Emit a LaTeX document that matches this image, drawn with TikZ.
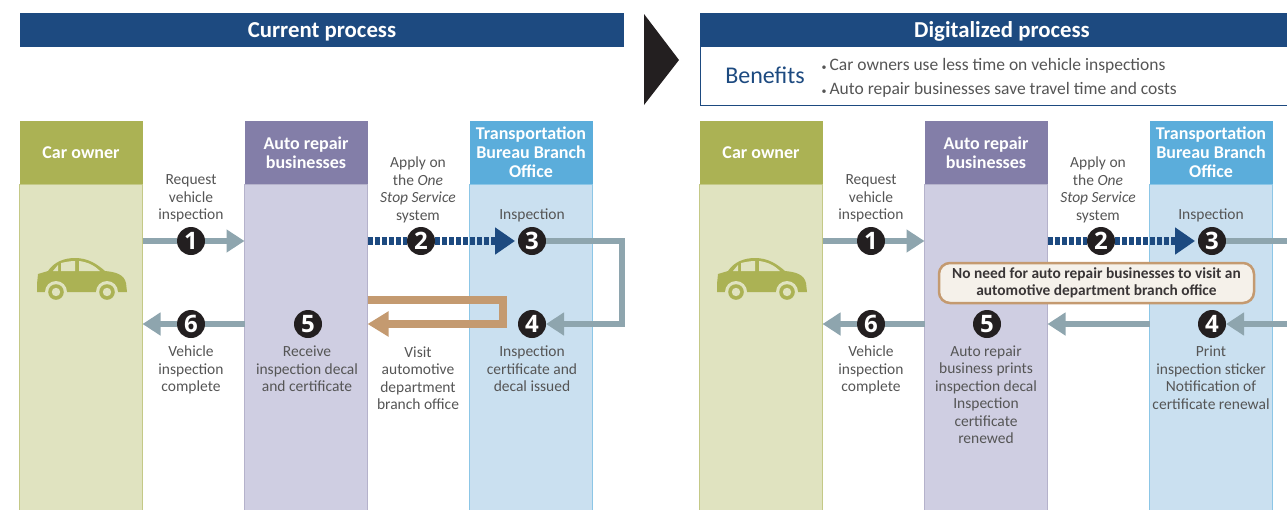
\documentclass[tikz,border=0pt]{standalone}
\usepackage{fontspec}
\setmainfont{Carlito}
\newfontfamily\numfont{Open Sans}
\usetikzlibrary{arrows.meta, positioning}

\definecolor{navy}{HTML}{1D4A80}
\definecolor{steel}{HTML}{8EA5AE}
\definecolor{tan}{HTML}{C49A70}
\definecolor{ink}{HTML}{231F20}
\definecolor{label}{HTML}{555555}
\definecolor{cream}{HTML}{F5F1EA}
\definecolor{olivehead}{HTML}{ABB254}
\definecolor{olivebody}{HTML}{E0E3C0}
\definecolor{purplehead}{HTML}{837EA8}
\definecolor{purplebody}{HTML}{CFCEE2}
\definecolor{skyhead}{HTML}{5BADDB}
\definecolor{skybody}{HTML}{CAE0F0}

\tikzset{
    banner/.style={anchor=north west, fill=navy, text=white, inner sep=0pt, outer sep=0pt, minimum width=604pt, minimum height=34pt, text height=20pt, text depth=5pt, font=\fontsize{22.8}{26}\selectfont\bfseries},
    head/.style={anchor=north west, inner sep=0pt, outer sep=0pt, minimum width=123pt, minimum height=63pt, text=white, align=center, font=\fontsize{18}{18.8}\selectfont\bfseries},
    body/.style={anchor=north west, inner sep=0pt, outer sep=0pt, minimum width=123pt, minimum height=335pt, line width=1pt},
    num/.style={circle, fill=ink, text=white, inner sep=0pt, outer sep=0pt, minimum size=28pt, font=\fontsize{24}{24}\selectfont\numfont\bfseries},
    note/.style={text=label, align=center, inner sep=0pt, font=\fontsize{15.5}{17.5}\selectfont},
    gain/.style={text=label, anchor=west, inner sep=0pt, font=\fontsize{17.5}{20}\selectfont},
    link/.style={draw=steel, line width=5.5pt},
    linkto/.style={link, -{Triangle[length=18pt,width=22pt]}},
    online/.style={draw=navy, line width=7.5pt, dash pattern=on 5pt off 2pt},
    onlineto/.style={online, shorten >=3pt, -{Triangle[length=20pt,width=26pt]}},
    visit/.style={draw=tan, line width=7.5pt, -{Triangle[length=21pt,width=24pt]}},
    car/.pic={
        \fill[olivehead] (37,292) -- (37,284) -- (38,274) -- (48,271) .. controls (54,262) and (64,258) .. (75,258) .. controls (88,258) and (97,264) .. (105,271) .. controls (115,272) and (124,274) .. (126,283) -- (127,292) -- cycle;
        \fill[olivebody] (53,271) -- (58,265) -- (58,271) -- cycle;
        \fill[olivebody] (61,271) -- (61,263) .. controls (66,262) and (70,261) .. (75,261) -- (75,271) -- cycle;
        \fill[olivebody] (79,271) -- (79,261) .. controls (88,262) and (95,266) .. (100,271) -- cycle;
        \foreach \wx in {56,107} {
            \fill[olivebody] (\wx,292) circle (11pt);
            \fill[olivebody] (\wx-11,292) rectangle (\wx+11,300);
            \fill[olivehead] (\wx,292) circle (7.8pt);
            \fill[olivebody] (\wx,292) circle (4.2pt);
        }
    }
}

\begin{document}
\begin{tikzpicture}[x=1pt, y=-1pt]
    \useasboundingbox (0,0) rectangle (1287,509);
    \clip (0,0) rectangle (1287,509);

    % Bandeaux du haut
    \node[banner] (currentbar) at (20,13) {Current process};
    \node[anchor=north west, draw=navy, line width=1pt, inner sep=0pt, outer sep=0pt, minimum width=600pt, minimum height=92pt] (benefitbox) at (700.5,13) {};
    \node[banner] (digitalbar) at (700,13) {Digitalized process};
    \fill[ink] (644,14) -- (679,60) -- (644,105) -- cycle;
    \node[text=navy, inner sep=0pt, font=\fontsize{24}{26}\selectfont] (benefits) at (765,75) {Benefits};
    \node[gain] (benefitone) at (821.5,65.5) {{\fontsize{10}{10}\selectfont\textbullet}\,Car owners use less time on vehicle inspections};
    \node[gain] (benefittwo) at (821.5,89.5) {{\fontsize{10}{10}\selectfont\textbullet}\,Auto repair businesses save travel time and costs};

    % Colonnes de gauche
    \node[body, fill=olivebody, draw=olivehead!70] (ownerL) at (19.5,184) {};
    \node[body, fill=purplebody, draw=purplehead!60] (repairL) at (244.5,184) {};
    \node[body, fill=skybody, draw=skyhead!70] (bureauL) at (469.5,184) {};
    \node[head, fill=olivehead] (ownerheadL) at (19.5,121) {Car owner};
    \node[head, fill=purplehead] (repairheadL) at (244.5,121) {Auto repair\\businesses};
    \node[head, fill=skyhead] (bureauheadL) at (469.5,121) {Transportation\\Bureau Branch\\Office};
    \pic at (0,0) {car};

    % Colonnes de droite
    \node[body, fill=olivebody, draw=olivehead!70] (ownerR) at (699.5,184) {};
    \node[body, fill=purplebody, draw=purplehead!60] (repairR) at (924.5,184) {};
    \node[body, fill=skybody, draw=skyhead!70] (bureauR) at (1149.5,184) {};
    \node[head, fill=olivehead] (ownerheadR) at (699.5,121) {Car owner};
    \node[head, fill=purplehead] (repairheadR) at (924.5,121) {Auto repair\\businesses};
    \node[head, fill=skyhead] (bureauheadR) at (1149.5,121) {Transportation\\Bureau Branch\\Office};
    \pic at (680,0) {car};

    % Numeros a gauche
    \node[num] (oneL) at (191,241) {1};
    \node[num] (twoL) at (421,241) {2};
    \node[num] (threeL) at (532,241) {3};
    \node[num] (fourL) at (532,324) {4};
    \node[num] (fiveL) at (308,324) {5};
    \node[num] (sixL) at (191,324) {6};

    % Numeros a droite
    \node[num] (oneR) at (871,241) {1};
    \node[num] (twoR) at (1101,241) {2};
    \node[num] (threeR) at (1212,241) {3};
    \node[num] (fourR) at (1212,324) {4};
    \node[num] (fiveR) at (987,324) {5};
    \node[num] (sixR) at (871,324) {6};

    % Fleches a gauche
    \draw[link] (ownerL.east |- oneL) -- (oneL);
    \draw[linkto] (oneL) -- (repairL.west |- oneL);
    \draw[online] (repairL.east |- twoL) -- (twoL);
    \draw[onlineto] (twoL) -- (threeL);
    \coordinate (cornertopL) at (622,241);
    \coordinate (cornerbotL) at (622,324);
    \draw[linkto] (threeL) -- (cornertopL) -- (cornerbotL) -- (fourL);
    \coordinate (visitstart) at (repairL.east |- 0,300);
    \coordinate (visittop) at (503,300);
    \coordinate (visitbot) at (503,324);
    \draw[visit] (visitstart) -- (visittop) -- (visitbot) -- (repairL.east |- visitbot);
    \draw[link] (repairL.west |- sixL) -- (sixL);
    \draw[linkto] (sixL) -- (ownerL.east |- sixL);

    % Fleches a droite
    \coordinate (edgetop) at (1290,241);
    \coordinate (edgebot) at (1290,324);
    \draw[link] (ownerR.east |- oneR) -- (oneR);
    \draw[linkto] (oneR) -- (repairR.west |- oneR);
    \draw[online] (repairR.east |- twoR) -- (twoR);
    \draw[onlineto] (twoR) -- (threeR);
    \draw[link] (threeR) -- (edgetop);
    \draw[linkto] (edgebot) -- (fourR);
    \draw[linkto] (bureauR.west |- fourR) -- (repairR.east |- fourR);
    \draw[link] (repairR.west |- sixR) -- (sixR);
    \draw[linkto] (sixR) -- (ownerR.east |- sixR);

    % Encadre
    \node[draw=tan, fill=cream, line width=2.5pt, rounded corners=11pt, minimum width=315pt, minimum height=40pt, inner sep=0pt, align=center, text=ink!90, font=\fontsize{15.4}{16.5}\selectfont\bfseries] (nonecall) at (1096.5,283) {No need for auto repair businesses to visit an\\automotive department branch office};

    % Textes a gauche
    \node[note] (requestL) at (191,198.5) {Request\\vehicle\\inspection};
    \node[note] (applyL) at (418,190) {Apply on\\the \textit{One}\\\textit{Stop Service}\\system};
    \node[note] (inspectL) at (532,215) {Inspection};
    \node[note] (completeL) at (191,370) {Vehicle\\inspection\\complete};
    \node[note] (receiveL) at (307,369) {Receive\\inspection decal\\and certificate};
    \node[note] (visitL) at (418,378) {Visit\\automotive\\department\\branch office};
    \node[note] (issuedL) at (532,369) {Inspection\\certificate and\\decal issued};

    % Textes a droite
    \node[note] (requestR) at (871,198.5) {Request\\vehicle\\inspection};
    \node[note] (applyR) at (1098,190) {Apply on\\the \textit{One}\\\textit{Stop Service}\\system};
    \node[note] (inspectR) at (1211,215) {Inspection};
    \node[note] (completeR) at (871,370) {Vehicle\\inspection\\complete};
    \node[note] (printsR) at (986,394.5) {Auto repair\\business prints\\inspection decal\\Inspection\\certificate\\renewed};
    \node[note] (stickerR) at (1211,377.5) {Print\\inspection sticker\\Notification of\\certificate renewal};
\end{tikzpicture}
\end{document}
